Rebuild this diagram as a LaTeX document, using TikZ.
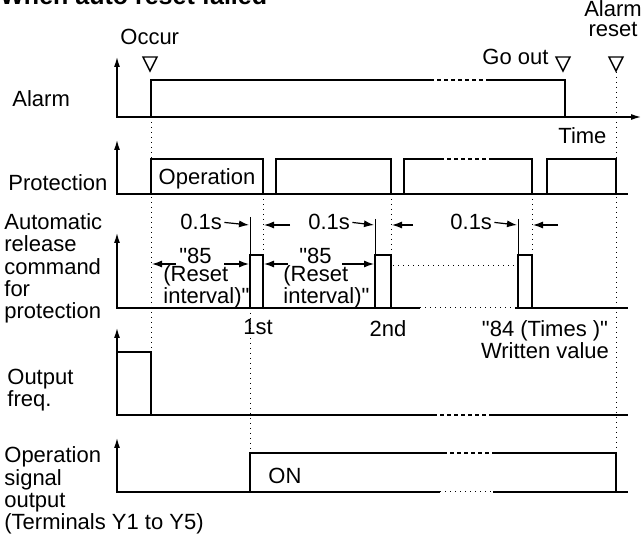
\documentclass[tikz,border=0pt]{standalone}
\usepackage{fontspec}
\setmainfont{Liberation Sans}
\usetikzlibrary{arrows.meta}

\begin{document}
\begin{tikzpicture}[
x=0.5pt, y=-0.5pt,
every node/.style={
font=\fontsize{11}{11.2}\selectfont,
inner sep=0pt
},
lbl/.style={align=left, anchor=base west},
tight/.style={align=left, anchor=base west, font=\fontsize{11}{9.2}\selectfont},
axis/.style={line width=0.6pt, {Latex[length=5pt,width=3pt]}-{Latex[length=5pt,width=3pt]}},
axisup/.style={line width=0.6pt, {Latex[length=5pt,width=3pt]}-},
base/.style={line width=0.6pt},
sig/.style={line width=1.2pt},
gap/.style={line width=0.8pt, dash pattern=on 2pt off 1.5pt},
guide/.style={line width=0.5pt, dotted},
tick/.style={line width=0.5pt},
dim/.style={line width=0.6pt, -{Latex[length=5pt,width=3.5pt]}},
tri/.style={line width=0.7pt}
]

\useasboundingbox (0,0) rectangle (644,535);

\node[anchor=base west, font=\bfseries\fontsize{12.5}{12.5}\selectfont] (title) at (0,5) {When auto reset failed};

\node[lbl] (alarm) at (12,107) {Alarm};
\node[lbl] (prot) at (8,191) {Protection};
\node[lbl] (release) at (4,319) {Automatic\\release\\command\\for\\protection};
\node[lbl] (freq) at (7,407) {Output\\freq.};
\node[lbl] (opsig) at (4,530) {Operation\\signal\\output\\(Terminals Y1 to Y5)};

\node[anchor=base west] (occur) at (120,45) {Occur};
\node[anchor=base west] (goout) at (482,65) {Go out};
\node[align=center, anchor=base, font=\fontsize{11}{10}\selectfont] (reset) at (613,37) {Alarm\\reset};
\node[anchor=base west] (time) at (558,144) {Time};

\draw[tri] (143,57) -- (157,57) -- (150,71) -- cycle;
\draw[tri] (556,57) -- (570,57) -- (563,71) -- cycle;
\draw[tri] (609,57) -- (623,57) -- (616,71) -- cycle;

\draw[guide] (151,117) -- (151,352);
\draw[guide] (263,194) -- (263,255);
\draw[guide] (391,194) -- (391,255);
\draw[guide] (532,194) -- (532,255);
\draw[guide] (250,308) -- (250,453);
\draw[guide] (616,72) -- (616,453);
\draw[guide] (393,266) -- (515,266);

\draw[axis] (117,57) |- (641,117);
\draw[sig] (151,117) -- (151,80) -- (430,80);
\draw[gap] (430,80) -- (490,80);
\draw[sig] (490,80) -- (565,80) -- (565,117);

\draw[axisup] (117,140) |- (628,194);
\draw[sig] (151,194) -- (151,159) -- (263,159) -- (263,194);
\draw[sig] (276,194) -- (276,159) -- (391,159) -- (391,194);
\draw[sig] (404,194) -- (404,159) -- (440,159);
\draw[gap] (440,159) -- (493,159);
\draw[sig] (493,159) -- (532,159) -- (532,194);
\draw[sig] (547,194) -- (547,159) -- (616,159) -- (616,194);
\node[anchor=base] (oper) at (207,185) {Operation};

\draw[axisup] (117,233) |- (420,308);
\draw[guide] (420,308) -- (515,308);
\draw[base] (515,308) -- (628,308);
\draw[sig] (250,308) -- (250,255) -- (263,255) -- (263,308);
\draw[sig] (375,308) -- (375,255) -- (391,255) -- (391,308);
\draw[sig] (518,308) -- (518,255) -- (532,255) -- (532,308);

\draw[tick] (250,217) -- (250,255);
\draw[tick] (375,219) -- (375,255);
\draw[tick] (518,219) -- (518,255);

\node[anchor=base west] (ta) at (180,230) {0.1s};
\node[anchor=base west] (tb) at (308,230) {0.1s};
\node[anchor=base west] (tc) at (450,230) {0.1s};
\draw[dim] (ta.east) ++(2,0) -- (249,225);
\draw[dim] (290,225) -- (264,225);
\draw[dim] (tb.east) ++(2,0) -- (374,225);
\draw[dim] (413,225) -- (392,225);
\draw[dim] (tc.east) ++(2,0) -- (517,225);
\draw[dim] (558,225) -- (533,225);

\node[tight] (ra) at (163,304) {\hspace*{8pt}\textquotedbl 85\\(Reset\\interval)\textquotedbl};
\node[tight] (rb) at (283,304) {\hspace*{8pt}\textquotedbl 85\\(Reset\\interval)\textquotedbl};
\draw[dim] (176,264) -- (152,264);
\draw[dim] (224,264) -- (249,264);
\draw[dim] (288,264) -- (264,264);
\draw[dim] (342,264) -- (374,264);

\node[anchor=base] (first) at (258,335) {1st};
\node[anchor=base] (second) at (388,336) {2nd};
\node[align=center, anchor=base] (written) at (545,359) {\textquotedbl 84 (Times )\textquotedbl\\Written value};

\draw[axisup] (117,328) |- (433,415);
\draw[gap] (433,415) -- (493,415);
\draw[base] (493,415) -- (628,415);
\draw[sig] (117,352) -- (151,352) -- (151,415);

\draw[axisup] (117,438) |- (440,492);
\draw[guide] (440,492) -- (493,492);
\draw[base] (493,492) -- (628,492);
\draw[sig] (250,492) -- (250,453) -- (443,453);
\draw[gap] (443,453) -- (493,453);
\draw[sig] (493,453) -- (616,453) -- (616,492);
\node[anchor=base west] (on) at (268,483) {ON};

\end{tikzpicture}
\end{document}
